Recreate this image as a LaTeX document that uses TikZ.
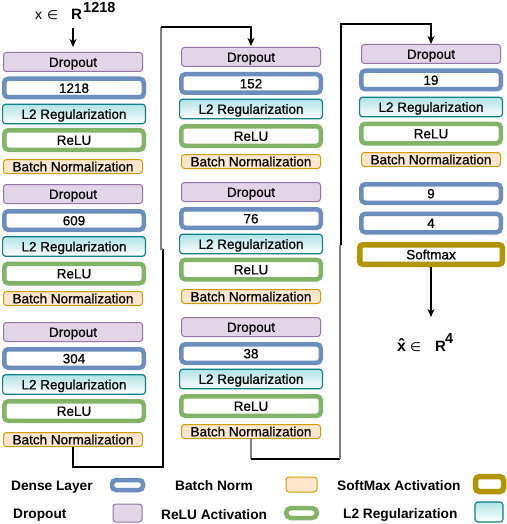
\documentclass[tikz,border=0pt]{standalone}
\usepackage{fontspec}
\setmainfont{Liberation Sans}
\newfontfamily\dejavu{DejaVu Sans}
\newfontfamily\boxfam{Liberation Sans}[FakeBold=0.7]
\usetikzlibrary{arrows.meta}
\definecolor{dropFill}{HTML}{E1D5E7}
\definecolor{dropDraw}{HTML}{9673A6}
\definecolor{denseDraw}{HTML}{6C8EBF}
\definecolor{ltwoTop}{HTML}{B0E3E6}
\definecolor{ltwoDraw}{HTML}{0E8088}
\definecolor{reluDraw}{HTML}{82B366}
\definecolor{bnFill}{HTML}{FFE6CC}
\definecolor{bnDraw}{HTML}{D79B00}
\definecolor{softDraw}{HTML}{B09500}
\definecolor{connGray}{HTML}{7F7F7F}
\newcommand\boxfont{\boxfam\fontsize{13.5}{13.5}\selectfont}
\newcommand\legfont{\fontsize{13.7}{13.7}\selectfont\bfseries}
\tikzset{
  basebox/.style={rounded corners=3pt, inner sep=0pt, font=\boxfont, text height=9.7pt, text depth=0pt, align=center},
  dropbox/.style={basebox, fill=dropFill, draw=dropDraw, line width=1pt, minimum width=139pt, minimum height=19pt},
  densebox/.style={basebox, fill=white, draw=denseDraw, line width=4.5pt, minimum width=139.5pt, minimum height=18.5pt, rounded corners=4pt},
  ltwobox/.style={basebox, top color=ltwoTop, bottom color=white, draw=ltwoDraw, line width=1.2pt, minimum width=142.8pt, minimum height=19.5pt},
  relubox/.style={basebox, fill=white, draw=reluDraw, line width=4.5pt, minimum width=139.5pt, minimum height=19.5pt, rounded corners=4pt},
  bnbox/.style={basebox, fill=bnFill, draw=bnDraw, line width=1pt, minimum width=139pt, minimum height=14pt},
  softbox/.style={basebox, fill=white, draw=softDraw, line width=5.5pt, minimum width=142.5pt, minimum height=19.5pt},
  conn/.style={line width=1.2pt, draw=black},
  conng/.style={line width=1.4pt, draw=connGray},
  arr/.style={-{Stealth[length=8pt,width=7pt,inset=2.5pt]}},
  legtext/.style={anchor=base west, inner sep=0pt, font=\legfont},
  lbl/.style={anchor=base west, inner sep=0pt},
}
\begin{document}
\begin{tikzpicture}[x=1pt,y=-1pt]
\fill[white] (0,0) rectangle (506,524);
\useasboundingbox (0,0) rectangle (506,524);

% ---------- left column ----------
\node[dropbox]  (ldrop1) at (73,62)    {Dropout};
\node[densebox] (lden1)  at (74,88)    {1218};
\node[ltwobox]  (lltwo1) at (74,114)   {L2 Regularization};
\node[relubox]  (lrelu1) at (74,140)   {ReLU};
\node[bnbox]    (lbn1)   at (73,166.5) {Batch Normalization};

\node[dropbox]  (ldrop2) at (73,194)   {Dropout};
\node[densebox] (lden2)  at (74,220.5) {609};
\node[ltwobox]  (lltwo2) at (74,246.5) {L2 Regularization};
\node[relubox]  (lrelu2) at (74,273.5) {ReLU};
\node[bnbox]    (lbn2)   at (73,298.5) {Batch Normalization};

\node[dropbox]  (ldrop3) at (73,332)   {Dropout};
\node[densebox] (lden3)  at (74,358.5) {304};
\node[ltwobox]  (lltwo3) at (74,384.5) {L2 Regularization};
\node[relubox]  (lrelu3) at (74,411)   {ReLU};
\node[bnbox]    (lbn3)   at (73,439.5) {Batch Normalization};

% ---------- middle column ----------
\node[dropbox]  (mdrop1) at (251,57)    {Dropout};
\node[densebox] (mden1)  at (251,83.5)  {152};
\node[ltwobox]  (mltwo1) at (251,109)   {L2 Regularization};
\node[relubox]  (mrelu1) at (251,136)   {ReLU};
\node[bnbox]    (mbn1)   at (251,161.5) {Batch Normalization};

\node[dropbox]  (mdrop2) at (251,192)   {Dropout};
\node[densebox] (mden2)  at (251,218.5) {76};
\node[ltwobox]  (mltwo2) at (251,244)   {L2 Regularization};
\node[relubox]  (mrelu2) at (251,269.5) {ReLU};
\node[bnbox]    (mbn2)   at (251,296.5) {Batch Normalization};

\node[dropbox]  (mdrop3) at (251,327)   {Dropout};
\node[densebox] (mden3)  at (251,353.5) {38};
\node[ltwobox]  (mltwo3) at (251,379)   {L2 Regularization};
\node[relubox]  (mrelu3) at (251,406)   {ReLU};
\node[bnbox]    (mbn3)   at (251,431.5) {Batch Normalization};

% ---------- right column ----------
\node[dropbox]  (rdrop)  at (431,54)    {Dropout};
\node[densebox] (rden1)  at (431,80)    {19};
\node[ltwobox]  (rltwo)  at (431,107)   {L2 Regularization};
\node[relubox]  (rrelu)  at (431,133.5) {ReLU};
\node[bnbox]    (rbn)    at (431,159.5) {Batch Normalization};
\node[densebox] (rden2)  at (431,193.5) {9};
\node[densebox] (rden3)  at (431,223)   {4};
\node[softbox]  (rsoft)  at (431,254.5) {Softmax};

% ---------- input / output labels ----------
\node[lbl] (inx) at (35,20) {\fontsize{14}{14}\selectfont x\hspace{5pt}{\dejavu\fontsize{12.5}{12.5}\selectfont ∈}};
\node[lbl] (inR) at (71,20) {\fontsize{15}{15}\selectfont\bfseries R};
\node[lbl] (insup) at (83,13) {\fontsize{14.5}{14.5}\selectfont\bfseries 1218};

\node[lbl] (outx) at (397,351) {\fontsize{16}{16}\selectfont\bfseries \^{x}\hspace{4pt}{\mdseries\dejavu\fontsize{12.5}{12.5}\selectfont ∈}};
\node[lbl] (outR) at (435,351) {\fontsize{15}{15}\selectfont\bfseries R};
\node[lbl] (outsup) at (445,343) {\fontsize{14.5}{14.5}\selectfont\bfseries 4};
\coordinate (outarr) at (431,317);

% ---------- connectors ----------
\draw[conn,arr,shorten <=8pt,shorten >=5pt] (inR.south -| ldrop1.north) -- (ldrop1.north);

\coordinate (ca) at (73,467);
\coordinate (cb) at (163,249);
\coordinate (cc) at (161,249);
\coordinate (cd) at (161,27);
\draw[conn] (lbn3.south) -- (ca) -| (cb);
\draw[conng] (cb) -- (cc) -- (cd);
\draw[conn,arr,shorten >=1pt] (cd) -| (mdrop1.north);

\coordinate (da) at (251,459);
\coordinate (db) at (340,459);
\coordinate (dc) at (340,245);
\coordinate (dd) at (341,245);
\coordinate (de) at (341,24);
\draw[conng] (mbn3.south) -- (da);
\draw[conn] (da) -- (db);
\draw[conng] (db) -- (dc);
\draw[conn,arr] (dd) -- (de) -| (rdrop.north);

\draw[conn,arr] (rsoft.south) -- (outarr);

% ---------- legend ----------
\node[legtext] (tdense) at (11,490)  {Dense Layer};
\node[legtext] (tbn)    at (175,490) {Batch Norm};
\node[legtext] (tsoft)  at (337,490) {SoftMax Activation};
\node[legtext] (tdrop)  at (13,518)  {Dropout};
\node[legtext] (trelu)  at (161,519) {ReLU Activation};
\node[legtext] (tltwo)  at (343,518) {L2 Regularization};

\node[densebox, minimum width=31pt, minimum height=10pt, rounded corners=4pt] (sdense) at (127.5,485) {};
\node[bnbox, minimum width=31pt, minimum height=15pt] (sbn) at (301.5,484.5) {};
\node[softbox, minimum width=28pt, minimum height=15pt, rounded corners=4pt] (ssoft) at (489.5,484) {};
\node[dropbox, minimum width=29pt, minimum height=18pt] (sdrop) at (127.5,513) {};
\node[relubox, minimum width=31pt, minimum height=10pt, rounded corners=5pt] (srelu) at (301.5,513) {};
\node[ltwobox, minimum width=28pt, minimum height=20pt] (sltwo) at (489,512) {};
\end{tikzpicture}
\end{document}
